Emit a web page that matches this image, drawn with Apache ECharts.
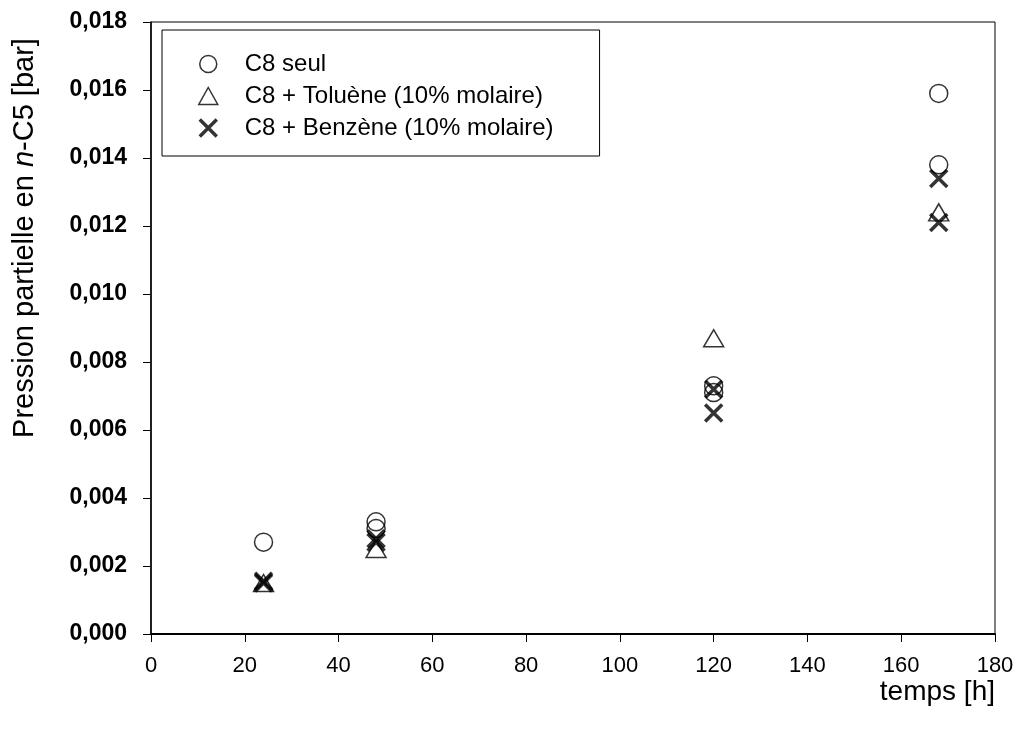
<!DOCTYPE html>
<html>
<head>
<meta charset="utf-8">
<script src="https://cdn.jsdelivr.net/npm/echarts@6/dist/echarts.min.js"></script>
<style>html,body{margin:0;padding:0;background:#fff}#c{width:1024px;height:731px}</style>
</head>
<body>
<div id="c"></div>
<script>
var seriesNames = ['C8 seul', 'C8 + Toluène (10% molaire)', 'C8 + Benzène (10% molaire)'];
var seulTime = [24, 48, 48, 120, 120, 168, 168];
var seulP = [0.0027, 0.0033, 0.0031, 0.0073, 0.0071, 0.0159, 0.0138];
var tolTime = [24, 48, 120, 168];
var tolP = [0.0015, 0.0025, 0.0087, 0.0124];
var benTime = [24, 24, 48, 48, 120, 120, 168, 168];
var benP = [0.00155, 0.0015, 0.0028, 0.0027, 0.0072, 0.0065, 0.0134, 0.0121];
var xTicks = [0, 20, 40, 60, 80, 100, 120, 140, 160, 180];
var yTicks = ['0,000','0,002','0,004','0,006','0,008','0,010','0,012','0,014','0,016','0,018'];
var xTitle = 'temps [h]';

function pairs(t, v) { return t.map(function (x, i) { return [x, v[i]]; }); }

var chart = echarts.init(document.getElementById('c'));
var FONT = 'Liberation Sans, Arial, sans-serif';
var XPATH = 'path://M0,0L10,10M10,0L0,10';
chart.setOption({
  animation: false,
  backgroundColor: '#fff',
  grid: { left: 151, right: 29, top: 22, bottom: 97, show: true, borderColor: '#000', borderWidth: 1, backgroundColor: 'transparent' },
  xAxis: {
    type: 'value', min: 0, max: 180, interval: 20,
    axisLine: { lineStyle: { color: '#000', width: 2 } },
    axisTick: { show: true, inside: false, length: 8, lineStyle: { color: '#000', width: 1 } },
    splitLine: { show: false },
    axisLabel: { color: '#000', fontFamily: FONT, fontSize: 22, margin: 21 },
    name: xTitle, nameLocation: 'end', nameGap: 0,
    nameTextStyle: { color: '#000', fontFamily: FONT, fontSize: 28, align: 'right', verticalAlign: 'top', padding: [44, 0, 0, 0] }
  },
  yAxis: {
    type: 'value', min: 0, max: 0.018, interval: 0.002,
    axisLine: { show: true, lineStyle: { color: '#000', width: 1.5 } },
    axisTick: { show: true, inside: false, length: 8, lineStyle: { color: '#000', width: 1 } },
    splitLine: { show: false },
    axisLabel: { color: '#000', fontFamily: FONT, fontWeight: 'bold', fontSize: 23, margin: 24,
      formatter: function (v) { return yTicks[Math.round(v / 0.002)]; } }
  },
  graphic: [{
    type: 'text', x: 25, y: 238, rotation: Math.PI / 2,
    style: {
      text: '{a|Pression partielle en }{b|n}{a|-C5 [bar]}',
      align: 'center', verticalAlign: 'middle',
      rich: {
        a: { fontFamily: FONT, fontSize: 29, fill: '#000' },
        b: { fontFamily: FONT, fontSize: 29, fontStyle: 'italic', fill: '#000' }
      }
    }
  }],
  legend: {
    orient: 'vertical', left: 162, top: 30,
    data: [
      { name: seriesNames[0], icon: 'circle', itemStyle: { color: 'rgba(0,0,0,0)', borderColor: '#000', borderWidth: 1.5 } },
      { name: seriesNames[1], icon: 'triangle', itemStyle: { color: 'rgba(0,0,0,0)', borderColor: '#000', borderWidth: 1.5 } },
      { name: seriesNames[2], icon: XPATH, itemStyle: { color: 'rgba(0,0,0,0)', borderColor: '#000', borderWidth: 3.5 } }
    ],
    itemWidth: 19, itemHeight: 17, itemGap: 8,
    padding: [22, 46, 16, 36],
    borderColor: '#000', borderWidth: 1,
    textStyle: { color: '#000', fontFamily: FONT, fontSize: 24, padding: [0, 0, 0, 22] }
  },
  series: [
    {
      name: seriesNames[0], type: 'scatter', data: pairs(seulTime, seulP),
      symbol: 'circle', symbolSize: 18,
      itemStyle: { color: 'rgba(0,0,0,0)', borderColor: '#000', borderWidth: 1.5 }
    },
    {
      name: seriesNames[1], type: 'scatter', data: pairs(tolTime, tolP),
      symbol: 'triangle', symbolSize: [20, 17],
      itemStyle: { color: 'rgba(0,0,0,0)', borderColor: '#000', borderWidth: 1.5 }
    },
    {
      name: seriesNames[2], type: 'scatter', data: pairs(benTime, benP),
      symbol: XPATH, symbolSize: 17,
      itemStyle: { color: 'rgba(0,0,0,0)', borderColor: '#000', borderWidth: 3.5 }
    }
  ]
});
</script>
</body>
</html>
